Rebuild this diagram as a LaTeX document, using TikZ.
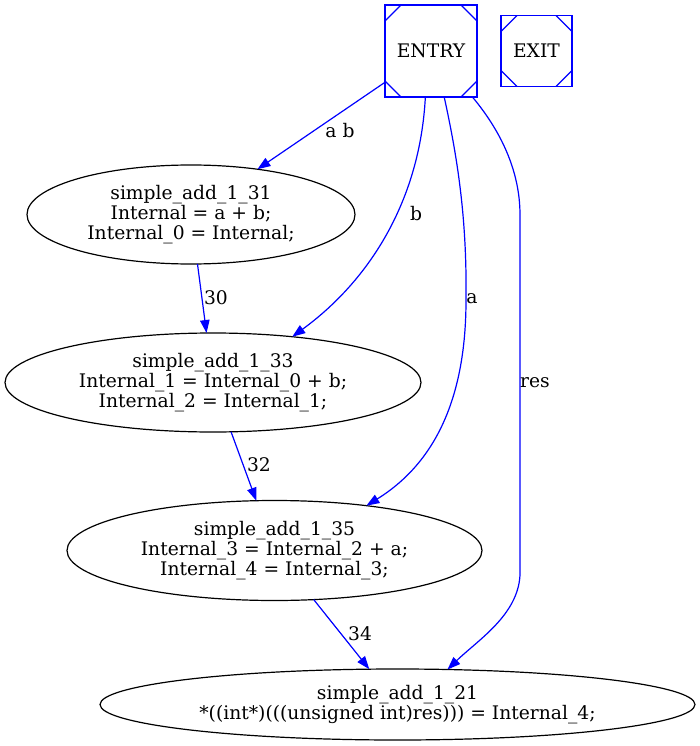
\documentclass[tikz,border=0pt]{standalone}
\usepackage{fontspec}
\setmainfont{DejaVu Serif}
\usetikzlibrary{arrows.meta,positioning,shapes.geometric}

\begin{document}
\begin{tikzpicture}[
  x=1pt,y=-1pt,
  font=\fontsize{18.7}{20}\selectfont,
  >={Triangle[length=13pt,width=9.5pt]},
  msq/.style={draw=blue,line width=1.2pt,minimum size=#1,inner sep=0pt,outer sep=0pt,
    path picture={
      \draw[blue,line width=1.2pt] ([xshift=16pt]path picture bounding box.north west) -- ([yshift=-16pt]path picture bounding box.north west);
      \draw[blue,line width=1.2pt] ([xshift=-16pt]path picture bounding box.north east) -- ([yshift=-16pt]path picture bounding box.north east);
      \draw[blue,line width=1.2pt] ([xshift=16pt]path picture bounding box.south west) -- ([yshift=16pt]path picture bounding box.south west);
      \draw[blue,line width=1.2pt] ([xshift=-16pt]path picture bounding box.south east) -- ([yshift=16pt]path picture bounding box.south east);
    }},
  proc/.style={ellipse,draw,line width=1.2pt,inner sep=0pt,outer sep=0pt,align=center},
  edge/.style={->,blue,line width=1.2pt},
  lbl/.style={inner sep=0pt},
]
\useasboundingbox (0,0) rectangle (700,746);
% ---- entry / exit blocks ----
\node[msq=92pt] (entry) at (431,51) {ENTRY};
\node[msq=71pt,right=24pt of entry] (exit) {EXIT};
% ---- statement nodes (top to bottom) ----
\node[proc,minimum width=328pt,minimum height=99pt] (n31) at (191,214.5) {simple\_add\_1\_31\\Internal = a + b;\\Internal\_0 = Internal;};
\node[proc,minimum width=416pt,minimum height=99pt] (n33) at (213,382.5) {simple\_add\_1\_33\\Internal\_1 = Internal\_0 + b;\\Internal\_2 = Internal\_1;};
\node[proc,minimum width=415pt,minimum height=100pt] (n35) at (274.5,550.5) {simple\_add\_1\_35\\Internal\_3 = Internal\_2 + a;\\Internal\_4 = Internal\_3;};
\node[proc,minimum width=595pt,minimum height=71pt] (n21) at (397.5,704.5) {simple\_add\_1\_21\\*((int*)(((unsigned int)res))) = Internal\_4;};
% ---- straight edges ----
\draw[edge] (entry) -- (n31);
\draw[edge] (n31) -- (n33);
\draw[edge] (n33) -- (n35);
\draw[edge] (n35) -- (n21);
% ---- curved edges out of ENTRY ----
\draw[edge] (entry.263) .. controls (420,200) and (370,280) .. (n33.30);
\draw[edge] (entry.286) .. controls (458,160) and (467,220) .. (466,300) .. controls (466,390) and (440,460) .. (n35.26);
\draw[edge] (entry.312) .. controls (500,130) and (520,170) .. (520,215) -- (520,575) .. controls (518,615) and (478,640) .. (n21.35);
% ---- edge labels ----
\node[lbl] (lab) at (340,131) {a b};
\node[lbl] (lb) at (416,214) {b};
\node[lbl] (la) at (472,299) {a};
\node[lbl] (lres) at (535,383) {res};
\node[lbl] (l30) at (216,298) {30};
\node[lbl] (l32) at (259,465) {32};
\node[lbl] (l34) at (360,634) {34};
\end{tikzpicture}
\end{document}
